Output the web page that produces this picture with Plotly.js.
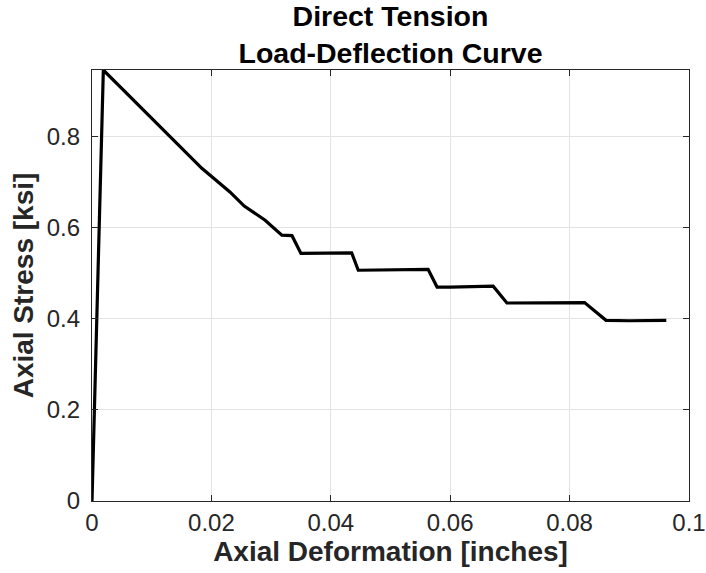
<!DOCTYPE html>
<html>
<head>
<meta charset="utf-8">
<script src="https://cdn.plot.ly/plotly-3.0.1.min.js"></script>
<style>html,body{margin:0;padding:0;background:#fff;}#chart{width:706px;height:573px;}</style>
</head>
<body>
<div id="chart"></div>
<script>
// Axial deformation [inches]
var deformation = [0, 0.0019, 0.0184, 0.0231, 0.0255, 0.0290, 0.0318, 0.0335, 0.0350, 0.0435, 0.0446, 0.0563, 0.0578, 0.0600, 0.0672, 0.0695, 0.0825, 0.0861, 0.0900, 0.0962];
// Axial stress [ksi]
var stress = [0, 0.947, 0.731, 0.679, 0.648, 0.617, 0.584, 0.583, 0.544, 0.545, 0.507, 0.509, 0.470, 0.470, 0.472, 0.435, 0.436, 0.397, 0.396, 0.397];
var xTicks = [0, 0.02, 0.04, 0.06, 0.08, 0.1];
var xTickLabels = ['0', '0.02', '0.04', '0.06', '0.08', '0.1'];
var yTicks = [0, 0.2, 0.4, 0.6, 0.8];
var yTickLabels = ['0', '0.2', '0.4', '0.6', '0.8'];

var font = '"Liberation Sans", Arial, Helvetica, sans-serif';
var axisColor = '#262626';

var trace = {
  x: deformation,
  y: stress,
  type: 'scatter',
  mode: 'lines',
  line: {color: '#000000', width: 3.2},
  hoverinfo: 'x+y'
};

var layout = {
  width: 706,
  height: 573,
  paper_bgcolor: '#ffffff',
  plot_bgcolor: '#ffffff',
  margin: {l: 92, r: 17, t: 70, b: 72},
  showlegend: false,
  font: {family: font, color: axisColor},
  title: {
    text: '<b>Direct Tension<br>Load-Deflection Curve</b>',
    font: {family: font, size: 28.5, color: '#000000'},
    x: 0.5,
    xanchor: 'center',
    xref: 'paper',
    yref: 'container',
    y: 0.955,
    yanchor: 'top'
  },
  xaxis: {
    range: [0, 0.1],
    tickvals: xTicks,
    ticktext: xTickLabels,
    ticks: 'inside',
    ticklen: 6,
    tickcolor: axisColor,
    showline: true,
    linecolor: axisColor,
    linewidth: 1.2,
    mirror: 'ticks',
    showgrid: true,
    gridcolor: '#e3e3e3',
    gridwidth: 1,
    zeroline: false,
    tickfont: {family: font, size: 24, color: axisColor},
    title: {
      text: '<b>Axial Deformation [inches]</b>',
      font: {family: font, size: 28, color: axisColor},
      standoff: 4
    }
  },
  yaxis: {
    range: [0, 0.947],
    tickvals: yTicks,
    ticktext: yTickLabels,
    ticks: 'inside',
    ticklen: 6,
    tickcolor: axisColor,
    showline: true,
    linecolor: axisColor,
    linewidth: 1.2,
    mirror: 'ticks',
    showgrid: true,
    gridcolor: '#e3e3e3',
    gridwidth: 1,
    zeroline: false,
    tickfont: {family: font, size: 24, color: axisColor},
    ticklabelstandoff: 6,
    title: {
      text: '<b>Axial Stress [ksi]</b>',
      font: {family: font, size: 28, color: axisColor},
      standoff: 4
    }
  }
};

Plotly.newPlot('chart', [trace], layout, {displayModeBar: false, staticPlot: true});
</script>
</body>
</html>
